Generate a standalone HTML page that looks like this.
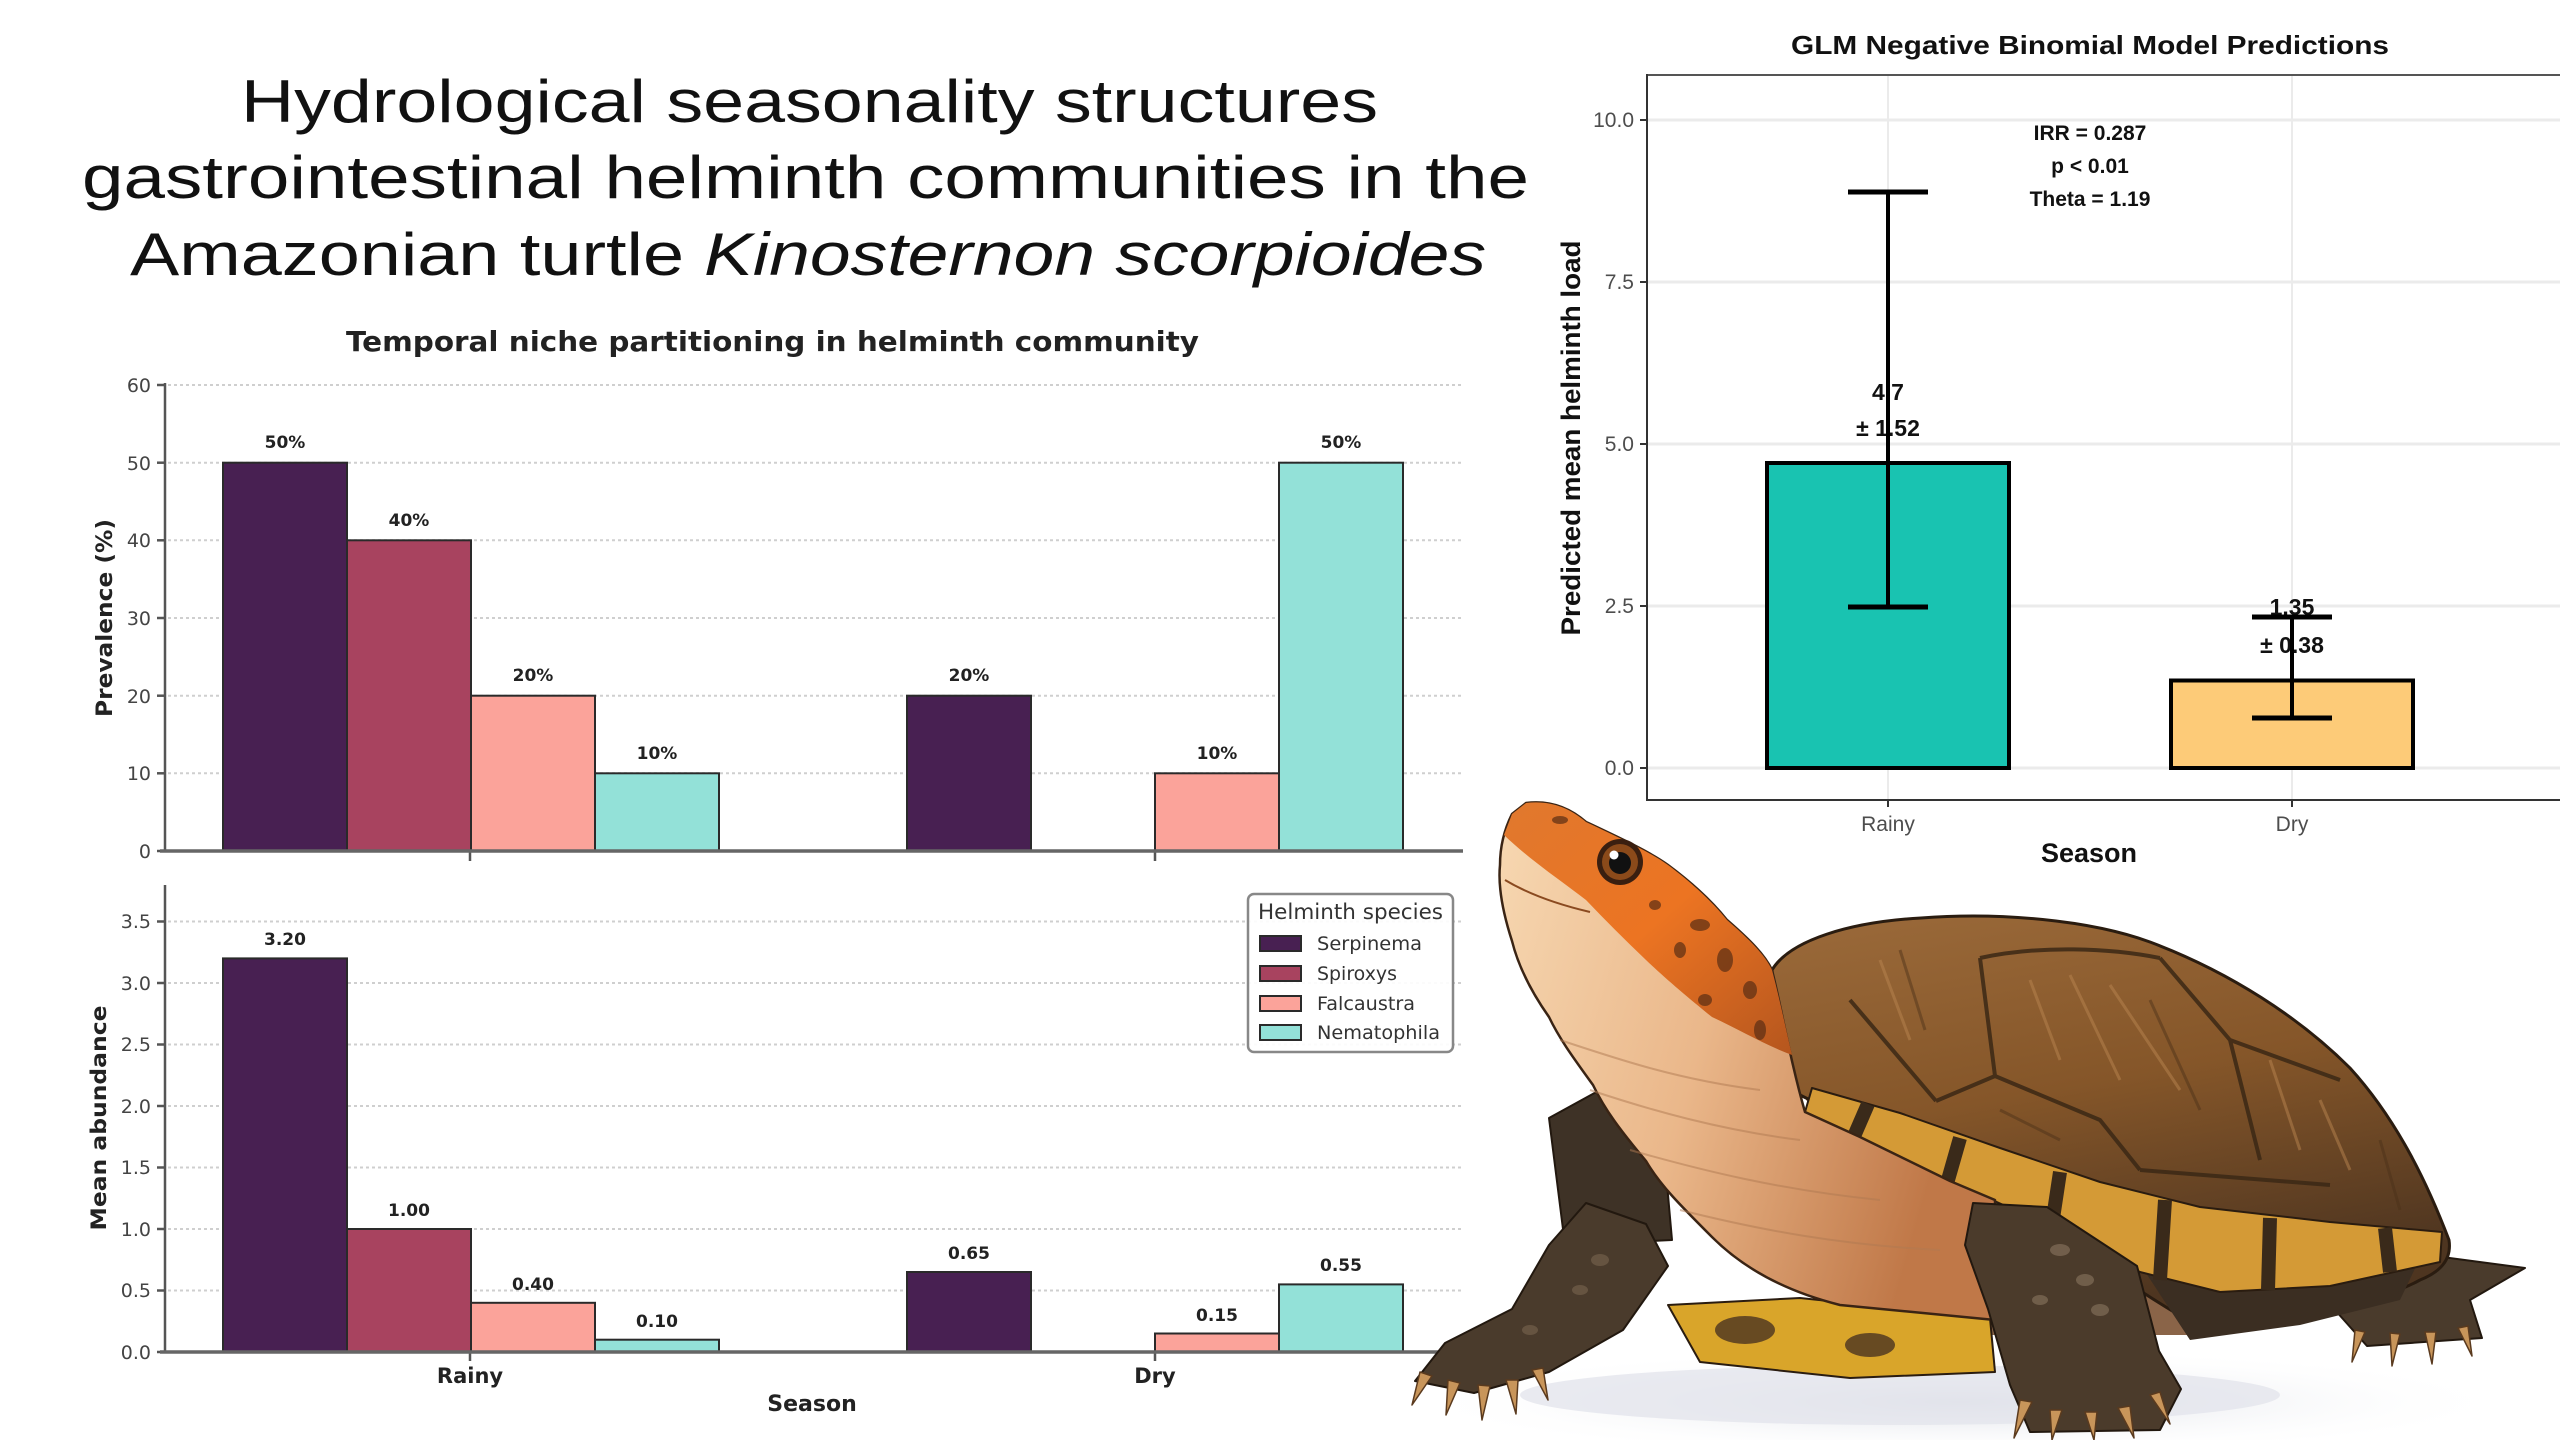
<!DOCTYPE html>
<html>
<head>
<meta charset="utf-8">
<style>
  html,body{margin:0;padding:0;background:#fff;}
  body{width:2560px;height:1440px;overflow:hidden;}
  svg{display:block;}
  .dj{font-family:"DejaVu Sans","Liberation Sans",sans-serif;}
  .lb{font-family:"Liberation Sans","DejaVu Sans",sans-serif;}
</style>
</head>
<body>
<svg width="2560" height="1440" viewBox="0 0 2560 1440" xmlns="http://www.w3.org/2000/svg">
<defs>
  <linearGradient id="shellG" x1="0" y1="0" x2="0.3" y2="1">
    <stop offset="0" stop-color="#9b6a3a"/>
    <stop offset="0.5" stop-color="#855629"/>
    <stop offset="1" stop-color="#4e3520"/>
  </linearGradient>
  <linearGradient id="neckG" x1="0" y1="0" x2="1" y2="0.3">
    <stop offset="0" stop-color="#f7d8b2"/>
    <stop offset="0.5" stop-color="#eab78a"/>
    <stop offset="1" stop-color="#c07848"/>
  </linearGradient>
  <linearGradient id="headG" x1="0" y1="0" x2="1" y2="1">
    <stop offset="0" stop-color="#e0782e"/>
    <stop offset="0.5" stop-color="#ec7422"/>
    <stop offset="1" stop-color="#b5561e"/>
  </linearGradient>
  <radialGradient id="shadowG" cx="0.5" cy="0.5" r="0.5">
    <stop offset="0" stop-color="#d9dce4"/>
    <stop offset="1" stop-color="#ffffff" stop-opacity="0"/>
  </radialGradient>
</defs>
<rect width="2560" height="1440" fill="#ffffff"/>

<!-- ===== Main title ===== -->
<g class="lb" fill="#111" font-size="60">
  <text x="241" y="122" textLength="1137" lengthAdjust="spacingAndGlyphs">Hydrological seasonality structures</text>
  <text x="82" y="198" textLength="1447" lengthAdjust="spacingAndGlyphs">gastrointestinal helminth communities in the</text>
  <text x="130" y="275" textLength="554" lengthAdjust="spacingAndGlyphs">Amazonian turtle</text>
  <text x="704" y="275" font-style="italic" textLength="782" lengthAdjust="spacingAndGlyphs">Kinosternon scorpioides</text>
</g>

<!-- ===== Left chart ===== -->
<g class="dj">
  <text x="346" y="351" font-size="28" font-weight="bold" fill="#222" textLength="853" lengthAdjust="spacingAndGlyphs">Temporal niche partitioning in helminth community</text>

  <g stroke="#cfcfcf" stroke-width="2" stroke-dasharray="3,3">
    <line x1="168" y1="385" x2="1463" y2="385"/>
    <line x1="168" y1="462.7" x2="1463" y2="462.7"/>
    <line x1="168" y1="540.3" x2="1463" y2="540.3"/>
    <line x1="168" y1="618" x2="1463" y2="618"/>
    <line x1="168" y1="695.7" x2="1463" y2="695.7"/>
    <line x1="168" y1="773.3" x2="1463" y2="773.3"/>
  </g>
  <g stroke="#2a2a2a" stroke-width="2">
    <rect x="223" y="462.7" width="124" height="388.3" fill="#482052"/>
    <rect x="347" y="540.3" width="124" height="310.7" fill="#a8435f"/>
    <rect x="471" y="695.7" width="124" height="155.3" fill="#fba39a"/>
    <rect x="595" y="773.3" width="124" height="77.7" fill="#93e1d8"/>
    <rect x="907" y="695.7" width="124" height="155.3" fill="#482052"/>
    <rect x="1155" y="773.3" width="124" height="77.7" fill="#fba39a"/>
    <rect x="1279" y="462.7" width="124" height="388.3" fill="#93e1d8"/>
  </g>
  <g font-size="17" font-weight="bold" fill="#222" text-anchor="middle">
    <text x="285" y="448">50%</text>
    <text x="409" y="526">40%</text>
    <text x="533" y="681">20%</text>
    <text x="657" y="759">10%</text>
    <text x="969" y="681">20%</text>
    <text x="1217" y="759">10%</text>
    <text x="1341" y="448">50%</text>
  </g>
  <g stroke="#555" stroke-width="2.5">
    <line x1="165" y1="383" x2="165" y2="852"/>
    <line x1="157" y1="385" x2="165" y2="385"/>
    <line x1="157" y1="462.7" x2="165" y2="462.7"/>
    <line x1="157" y1="540.3" x2="165" y2="540.3"/>
    <line x1="157" y1="618" x2="165" y2="618"/>
    <line x1="157" y1="695.7" x2="165" y2="695.7"/>
    <line x1="157" y1="773.3" x2="165" y2="773.3"/>
    <line x1="157" y1="851" x2="165" y2="851"/>
    <line x1="470" y1="851" x2="470" y2="861"/>
    <line x1="1155" y1="851" x2="1155" y2="861"/>
  </g>
  <line x1="160" y1="851" x2="1463" y2="851" stroke="#666" stroke-width="3.5"/>
  <g font-size="19" fill="#444" text-anchor="end">
    <text x="151" y="392">60</text>
    <text x="151" y="470">50</text>
    <text x="151" y="547">40</text>
    <text x="151" y="625">30</text>
    <text x="151" y="703">20</text>
    <text x="151" y="780">10</text>
    <text x="151" y="858">0</text>
  </g>
  <text transform="translate(112,618) rotate(-90)" font-size="22" font-weight="bold" fill="#222" text-anchor="middle" textLength="198" lengthAdjust="spacingAndGlyphs">Prevalence (%)</text>

  <g stroke="#cfcfcf" stroke-width="2" stroke-dasharray="3,3">
    <line x1="168" y1="921.5" x2="1463" y2="921.5"/>
    <line x1="168" y1="983" x2="1463" y2="983"/>
    <line x1="168" y1="1044.5" x2="1463" y2="1044.5"/>
    <line x1="168" y1="1106" x2="1463" y2="1106"/>
    <line x1="168" y1="1167.5" x2="1463" y2="1167.5"/>
    <line x1="168" y1="1229" x2="1463" y2="1229"/>
    <line x1="168" y1="1290.5" x2="1463" y2="1290.5"/>
  </g>
  <g stroke="#2a2a2a" stroke-width="2">
    <rect x="223" y="958.4" width="124" height="393.6" fill="#482052"/>
    <rect x="347" y="1229" width="124" height="123" fill="#a8435f"/>
    <rect x="471" y="1302.8" width="124" height="49.2" fill="#fba39a"/>
    <rect x="595" y="1339.7" width="124" height="12.3" fill="#93e1d8"/>
    <rect x="907" y="1272" width="124" height="80" fill="#482052"/>
    <rect x="1155" y="1333.5" width="124" height="18.5" fill="#fba39a"/>
    <rect x="1279" y="1284.4" width="124" height="67.6" fill="#93e1d8"/>
  </g>
  <g font-size="17" font-weight="bold" fill="#222" text-anchor="middle">
    <text x="285" y="945">3.20</text>
    <text x="409" y="1216">1.00</text>
    <text x="533" y="1290">0.40</text>
    <text x="657" y="1327">0.10</text>
    <text x="969" y="1259">0.65</text>
    <text x="1217" y="1321">0.15</text>
    <text x="1341" y="1271">0.55</text>
  </g>
  <g stroke="#555" stroke-width="2.5">
    <line x1="165" y1="885" x2="165" y2="1353"/>
    <line x1="157" y1="921.5" x2="165" y2="921.5"/>
    <line x1="157" y1="983" x2="165" y2="983"/>
    <line x1="157" y1="1044.5" x2="165" y2="1044.5"/>
    <line x1="157" y1="1106" x2="165" y2="1106"/>
    <line x1="157" y1="1167.5" x2="165" y2="1167.5"/>
    <line x1="157" y1="1229" x2="165" y2="1229"/>
    <line x1="157" y1="1290.5" x2="165" y2="1290.5"/>
    <line x1="157" y1="1352" x2="165" y2="1352"/>
    <line x1="470" y1="1352" x2="470" y2="1361"/>
    <line x1="1155" y1="1352" x2="1155" y2="1361"/>
  </g>
  <line x1="160" y1="1352" x2="1463" y2="1352" stroke="#666" stroke-width="3.5"/>
  <g font-size="19" fill="#444" text-anchor="end">
    <text x="151" y="928">3.5</text>
    <text x="151" y="990">3.0</text>
    <text x="151" y="1051">2.5</text>
    <text x="151" y="1113">2.0</text>
    <text x="151" y="1174">1.5</text>
    <text x="151" y="1236">1.0</text>
    <text x="151" y="1297">0.5</text>
    <text x="151" y="1359">0.0</text>
  </g>
  <text transform="translate(106,1118) rotate(-90)" font-size="21" font-weight="bold" fill="#222" text-anchor="middle" textLength="225" lengthAdjust="spacingAndGlyphs">Mean abundance</text>
  <g font-size="21" font-weight="bold" fill="#222" text-anchor="middle">
    <text x="470" y="1383">Rainy</text>
    <text x="1155" y="1383">Dry</text>
    <text x="812" y="1411" font-size="22">Season</text>
  </g>

  <rect x="1248" y="894" width="205" height="158" rx="6" fill="#fff" fill-opacity="0.9" stroke="#888" stroke-width="2.5"/>
  <text x="1258" y="919" font-size="21" fill="#333" textLength="185" lengthAdjust="spacingAndGlyphs">Helminth species</text>
  <g stroke="#2a2a2a" stroke-width="2">
    <rect x="1260" y="936" width="41" height="15" fill="#482052"/>
    <rect x="1260" y="966" width="41" height="15" fill="#a8435f"/>
    <rect x="1260" y="996" width="41" height="15" fill="#fba39a"/>
    <rect x="1260" y="1025" width="41" height="15" fill="#93e1d8"/>
  </g>
  <g font-size="19" fill="#333">
    <text x="1317" y="950" textLength="105" lengthAdjust="spacingAndGlyphs">Serpinema</text>
    <text x="1317" y="980" textLength="80" lengthAdjust="spacingAndGlyphs">Spiroxys</text>
    <text x="1317" y="1010" textLength="98" lengthAdjust="spacingAndGlyphs">Falcaustra</text>
    <text x="1317" y="1039" textLength="123" lengthAdjust="spacingAndGlyphs">Nematophila</text>
  </g>
</g>

<!-- ===== GLM chart ===== -->
<g class="lb">
  <text x="2090" y="54" font-size="26" font-weight="bold" fill="#111" text-anchor="middle" textLength="598" lengthAdjust="spacingAndGlyphs">GLM Negative Binomial Model Predictions</text>
  <g stroke="#ebebeb" stroke-width="3">
    <line x1="1647" y1="120" x2="2560" y2="120"/>
    <line x1="1647" y1="282" x2="2560" y2="282"/>
    <line x1="1647" y1="444" x2="2560" y2="444"/>
    <line x1="1647" y1="606" x2="2560" y2="606"/>
    <line x1="1647" y1="768" x2="2560" y2="768"/>
  </g>
  <g stroke="#ebebeb" stroke-width="2">
    <line x1="1888" y1="75" x2="1888" y2="800"/>
    <line x1="2292" y1="75" x2="2292" y2="800"/>
  </g>
  <line x1="1647" y1="75" x2="2560" y2="75" stroke="#555" stroke-width="2"/>
  <line x1="1647" y1="74" x2="1647" y2="801" stroke="#333" stroke-width="2"/>
  <line x1="1646" y1="800" x2="2560" y2="800" stroke="#333" stroke-width="2"/>
  <g stroke="#333" stroke-width="2">
    <line x1="1640" y1="120" x2="1647" y2="120"/>
    <line x1="1640" y1="282" x2="1647" y2="282"/>
    <line x1="1640" y1="444" x2="1647" y2="444"/>
    <line x1="1640" y1="606" x2="1647" y2="606"/>
    <line x1="1640" y1="768" x2="1647" y2="768"/>
    <line x1="1888" y1="800" x2="1888" y2="807"/>
    <line x1="2292" y1="800" x2="2292" y2="807"/>
  </g>
  <g font-size="21" fill="#4d4d4d" text-anchor="end">
    <text x="1634" y="127">10.0</text>
    <text x="1634" y="289">7.5</text>
    <text x="1634" y="451">5.0</text>
    <text x="1634" y="613">2.5</text>
    <text x="1634" y="775">0.0</text>
  </g>
  <g font-size="21" fill="#4d4d4d" text-anchor="middle">
    <text x="1888" y="831">Rainy</text>
    <text x="2292" y="831">Dry</text>
  </g>
  <text x="2089" y="862" font-size="27" font-weight="bold" fill="#111" text-anchor="middle">Season</text>
  <text transform="translate(1580,438) rotate(-90)" font-size="27" font-weight="bold" fill="#111" text-anchor="middle" textLength="395" lengthAdjust="spacingAndGlyphs">Predicted mean helminth load</text>

  <rect x="1767" y="463" width="242" height="305" fill="#19c3b1" stroke="#000" stroke-width="4"/>
  <rect x="2171" y="680.5" width="242" height="87.5" fill="#fdcb78" stroke="#000" stroke-width="4"/>

  <g font-size="23" font-weight="bold" fill="#111" text-anchor="middle">
    <text x="1888" y="400">4.7</text>
    <text x="1888" y="436">± 1.52</text>
    <text x="2292" y="615">1.35</text>
    <text x="2292" y="653">± 0.38</text>
  </g>
  <g stroke="#000" stroke-width="4">
    <line x1="1888" y1="192" x2="1888" y2="607"/>
    <line x1="1848" y1="192" x2="1928" y2="192" stroke-width="5"/>
    <line x1="1848" y1="607" x2="1928" y2="607" stroke-width="5"/>
    <line x1="2292" y1="617" x2="2292" y2="718"/>
    <line x1="2252" y1="617" x2="2332" y2="617" stroke-width="5"/>
    <line x1="2252" y1="718" x2="2332" y2="718" stroke-width="5"/>
  </g>
  <g font-size="21" font-weight="bold" fill="#111" text-anchor="middle">
    <text x="2090" y="140">IRR = 0.287</text>
    <text x="2090" y="173">p &lt; 0.01</text>
    <text x="2090" y="206">Theta = 1.19</text>
  </g>
</g>

<!-- ===== Turtle illustration ===== -->
<g stroke-linejoin="round">
  <ellipse cx="1960" cy="1402" rx="560" ry="55" fill="url(#shadowG)"/>
  <ellipse cx="1900" cy="1395" rx="380" ry="30" fill="#e3e5ec" opacity="0.8"/>

  <path d="M1549,1118 L1600,1090 L1660,1105 L1672,1240 L1565,1245 Z" fill="#3e3226" stroke="#22180f" stroke-width="2"/>

  <path d="M2330,1262 L2427,1255 L2525,1268 L2470,1300 L2482,1338 L2367,1346 L2335,1310 Z" fill="#4a3b2c" stroke="#22180f" stroke-width="2"/>
  <g fill="#c8955a" stroke="#5a3a1e" stroke-width="1.5">
    <path d="M2355,1330 L2365,1332 L2352,1362 Z"/>
    <path d="M2390,1333 L2400,1334 L2392,1366 Z"/>
    <path d="M2425,1332 L2436,1332 L2432,1364 Z"/>
    <path d="M2458,1328 L2468,1326 L2472,1356 Z"/>
  </g>

  <path d="M1800,1090 L2000,1180 L2150,1260 L2200,1335 L1990,1335 L1900,1250 Z" fill="#8a6448"/>

  <path d="M1772,970 C1790,940 1850,922 1921,918 C2000,912 2090,920 2150,942 C2230,972 2300,1018 2350,1068 C2400,1123 2430,1190 2449,1240 C2452,1260 2440,1272 2420,1280 C2380,1302 2300,1320 2200,1327 C2150,1300 2080,1250 2000,1195 C1920,1150 1850,1120 1800,1095 C1785,1060 1775,1010 1772,970 Z" fill="url(#shellG)" stroke="#2a1c10" stroke-width="3"/>
  <g stroke="#3b2815" stroke-width="4" fill="none" opacity="0.85">
    <path d="M1980,958 L1995,1076 L1936,1101"/>
    <path d="M1995,1076 L2100,1120 L2140,1170"/>
    <path d="M1980,958 C2040,945 2110,948 2160,958"/>
    <path d="M1850,1000 L1936,1101"/>
    <path d="M2160,958 L2230,1040 L2260,1160"/>
    <path d="M2140,1170 L2330,1185"/>
    <path d="M2230,1040 L2340,1080"/>
  </g>
  <g stroke="#b98550" stroke-width="3" opacity="0.5">
    <line x1="2030" y1="980" x2="2060" y2="1060"/>
    <line x1="2070" y1="975" x2="2120" y2="1080"/>
    <line x1="2110" y1="985" x2="2180" y2="1090"/>
    <line x1="1880" y1="960" x2="1910" y2="1040"/>
    <line x1="2270" y1="1060" x2="2300" y2="1150"/>
    <line x1="2320" y1="1100" x2="2350" y2="1170"/>
  </g>
  <g stroke="#4a3018" stroke-width="3" opacity="0.45">
    <line x1="1900" y1="950" x2="1925" y2="1030"/>
    <line x1="2150" y1="1000" x2="2200" y2="1110"/>
    <line x1="2380" y1="1140" x2="2400" y2="1210"/>
    <line x1="2000" y1="1110" x2="2060" y2="1140"/>
  </g>

  <path d="M2144,1270 L2290,1270 L2420,1258 L2400,1300 L2300,1325 L2190,1340 Z" fill="#3b2e22"/>
  <path d="M1812,1088 L1900,1113 L2000,1148 L2100,1182 L2200,1207 L2330,1222 L2442,1232 L2440,1262 L2330,1286 L2220,1292 L2140,1272 L2050,1226 L1950,1181 L1860,1137 L1805,1112 Z" fill="#d49a36" stroke="#2a1c10" stroke-width="2"/>
  <g stroke="#3a2a1a" stroke-width="14">
    <line x1="1868" y1="1104" x2="1855" y2="1134"/>
    <line x1="1960" y1="1138" x2="1948" y2="1180"/>
    <line x1="2060" y1="1172" x2="2052" y2="1225"/>
    <line x1="2165" y1="1200" x2="2160" y2="1280"/>
    <line x1="2270" y1="1218" x2="2268" y2="1290"/>
    <line x1="2385" y1="1228" x2="2390" y2="1272"/>
  </g>

  <path d="M1668,1305 L1800,1298 L1990,1318 L1995,1372 L1850,1378 L1700,1362 Z" fill="#d9a52a" stroke="#2a1c10" stroke-width="2"/>
  <g fill="#4a3320" opacity="0.8">
    <ellipse cx="1745" cy="1330" rx="30" ry="14"/>
    <ellipse cx="1870" cy="1345" rx="25" ry="12"/>
  </g>

  <!-- neck and head -->
  <path d="M1512,814 L1526,803 C1550,800 1570,808 1586,822 C1620,838 1650,852 1668,865 C1695,885 1715,905 1727,920 C1750,940 1765,955 1772,970 C1782,1010 1790,1060 1805,1112 L1860,1137 L1950,1181 L1995,1200 L1995,1320 L1840,1305 C1780,1290 1740,1265 1712,1237 C1680,1205 1660,1185 1646,1161 C1620,1130 1605,1110 1593,1085 C1575,1060 1560,1040 1549,1017 C1530,990 1518,965 1512,941 C1502,910 1498,885 1500,865 C1500,845 1505,828 1512,814 Z" fill="url(#neckG)" stroke="#3a2414" stroke-width="2.5"/>
  <g fill="none" stroke="#b07a52" stroke-width="2" opacity="0.5">
    <path d="M1560,1040 C1620,1060 1680,1080 1760,1090"/>
    <path d="M1590,1090 C1650,1110 1720,1130 1800,1140"/>
    <path d="M1630,1150 C1700,1170 1780,1190 1880,1200"/>
    <path d="M1680,1210 C1760,1230 1840,1245 1940,1250"/>
  </g>
  <path d="M1512,814 L1526,803 C1550,800 1570,808 1586,822 C1620,838 1650,852 1668,865 C1695,885 1715,905 1727,920 C1750,940 1765,955 1772,970 C1780,1000 1786,1030 1792,1055 C1765,1045 1740,1030 1712,1017 C1685,995 1665,978 1646,960 C1625,940 1605,920 1586,900 C1560,880 1530,860 1504,835 Z" fill="url(#headG)"/>
  <g fill="#5a2e14" opacity="0.7">
    <ellipse cx="1700" cy="925" rx="10" ry="6"/>
    <ellipse cx="1725" cy="960" rx="8" ry="12"/>
    <ellipse cx="1750" cy="990" rx="7" ry="9"/>
    <ellipse cx="1680" cy="950" rx="6" ry="8"/>
    <ellipse cx="1560" cy="820" rx="8" ry="4"/>
    <ellipse cx="1760" cy="1030" rx="6" ry="10"/>
    <ellipse cx="1655" cy="905" rx="6" ry="5"/>
    <ellipse cx="1705" cy="1000" rx="7" ry="6"/>
  </g>
  <path d="M1505,880 C1530,895 1560,905 1590,912" fill="none" stroke="#8a4a20" stroke-width="2"/>
  <circle cx="1620" cy="862" r="23" fill="#3a1f10"/>
  <circle cx="1620" cy="862" r="18" fill="#8b4a1a"/>
  <circle cx="1620" cy="863" r="11" fill="#111"/>
  <circle cx="1614" cy="855" r="4.5" fill="#fff"/>

  <!-- front left leg -->
  <path d="M1586,1203 L1646,1224 L1668,1266 L1623,1330 L1549,1372 L1474,1393 L1415,1381 L1445,1343 L1512,1309 L1549,1245 Z" fill="#4a3b2c" stroke="#22180f" stroke-width="2"/>
  <g fill="#7a6650" opacity="0.6">
    <ellipse cx="1600" cy="1260" rx="9" ry="6"/>
    <ellipse cx="1580" cy="1290" rx="8" ry="5"/>
    <ellipse cx="1530" cy="1330" rx="8" ry="5"/>
  </g>
  <g fill="#c8955a" stroke="#5a3a1e" stroke-width="1.5">
    <path d="M1420,1372 L1432,1376 L1412,1405 Z"/>
    <path d="M1448,1380 L1460,1383 L1446,1415 Z"/>
    <path d="M1478,1385 L1490,1386 L1482,1420 Z"/>
    <path d="M1506,1380 L1518,1380 L1516,1414 Z"/>
    <path d="M1532,1370 L1543,1368 L1548,1400 Z"/>
  </g>

  <!-- front right leg -->
  <path d="M1973,1203 L2047,1207 L2137,1266 L2159,1351 L2181,1389 L2160,1430 L2030,1432 L2010,1385 L1988,1309 L1965,1245 Z" fill="#4b3b2b" stroke="#22180f" stroke-width="2"/>
  <g fill="#8a7660" opacity="0.6">
    <ellipse cx="2060" cy="1250" rx="10" ry="6"/>
    <ellipse cx="2085" cy="1280" rx="9" ry="6"/>
    <ellipse cx="2100" cy="1310" rx="9" ry="6"/>
    <ellipse cx="2040" cy="1300" rx="8" ry="5"/>
  </g>
  <g fill="#c8955a" stroke="#5a3a1e" stroke-width="1.5">
    <path d="M2020,1400 L2032,1402 L2014,1438 Z"/>
    <path d="M2050,1410 L2062,1410 L2052,1440 Z"/>
    <path d="M2085,1412 L2097,1412 L2094,1440 Z"/>
    <path d="M2118,1408 L2130,1406 L2134,1438 Z"/>
    <path d="M2150,1395 L2160,1392 L2170,1424 Z"/>
  </g>
</g>
</svg>
</body>
</html>
